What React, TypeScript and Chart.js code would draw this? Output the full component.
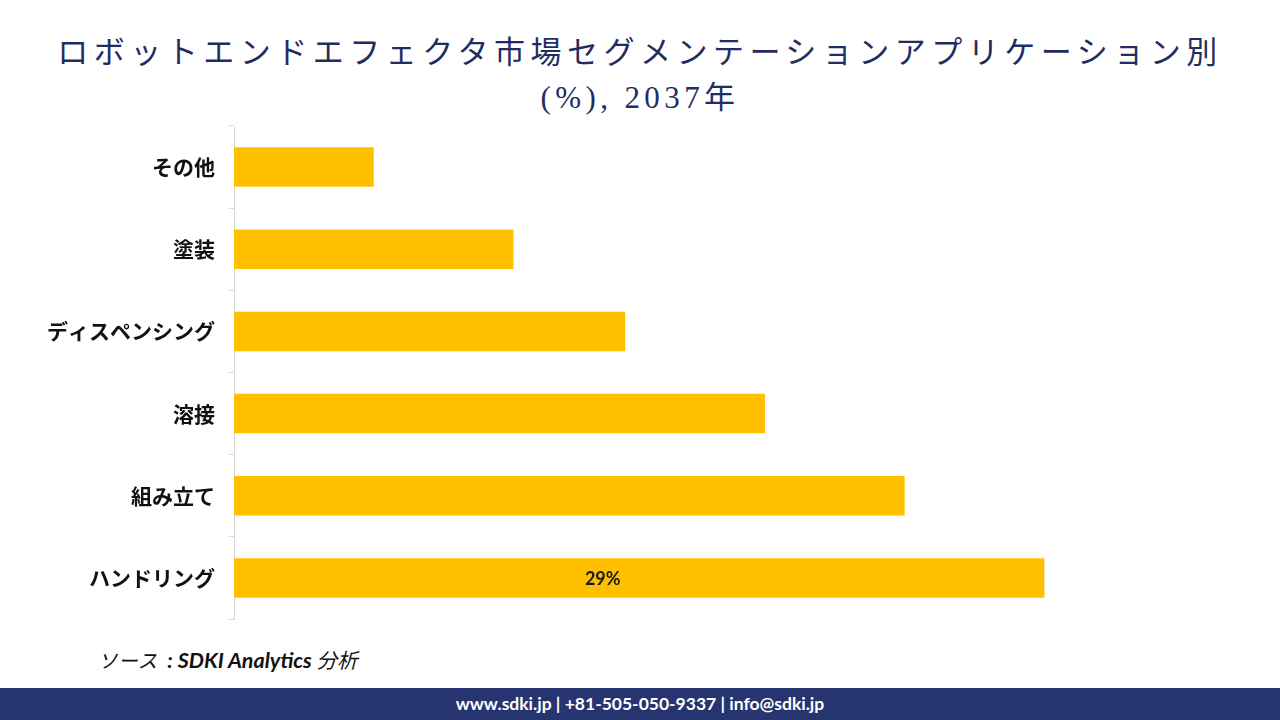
import React, { useEffect, useRef } from "react";
import { Chart, registerables } from "chart.js";

Chart.register(...registerables);

const categories: string[] = ["その他", "塗装", "ディスペンシング", "溶接", "組み立て", "ハンドリング"];
const shares: number[] = [5, 10, 14, 19, 24, 29];
const shownLabels: (string | null)[] = [null, null, null, null, null, "29%"];
const axisMax = 36;

const titleLines = ["ロボットエンドエフェクタ市場セグメンテーションアプリケーション別", "(%), 2037年"];

const labelPlugin = {
  id: "barLabels",
  afterDatasetsDraw(chart: any) {
    const ctx = chart.ctx;
    const meta = chart.getDatasetMeta(0);
    ctx.save();
    ctx.font = "bold 18px Lato, 'Noto Sans', sans-serif";
    ctx.fillStyle = "#1a1a1a";
    ctx.textAlign = "center";
    ctx.textBaseline = "middle";
    meta.data.forEach((bar: any, i: number) => {
      const txt = shownLabels[i];
      if (!txt) return;
      const xs = chart.scales.x;
      const x = xs.getPixelForValue(shares[i] * 0.455);
      ctx.fillText(txt, x, bar.y + 1);
    });
    ctx.restore();
  },
};

export default function App() {
  const ref = useRef<HTMLCanvasElement | null>(null);
  useEffect(() => {
    if (!ref.current) return;
    const chart = new Chart(ref.current, {
      type: "bar",
      data: {
        labels: categories,
        datasets: [
          {
            data: shares,
            backgroundColor: "#FFC000",
            barPercentage: 0.48,
            categoryPercentage: 1,
          },
        ],
      },
      options: {
        indexAxis: "y",
        animation: false,
        responsive: false,
        maintainAspectRatio: false,
        layout: { padding: { left: 0, right: 40, top: 26, bottom: 21 } },
        plugins: { legend: { display: false }, tooltip: { enabled: false }, title: { display: false } },
        scales: {
          x: { display: false, min: 0, max: axisMax },
          y: {
            afterFit(scale: any) {
              scale.width = 234;
              scale.paddingTop = 0;
              scale.paddingBottom = 0;
            },
            border: { display: true, color: "#d9d9d9", width: 1 },
            grid: { drawOnChartArea: false, drawTicks: true, tickLength: 5, color: "#d9d9d9", offset: true },
            ticks: {
              color: "#111",
              padding: 14,
              font: { family: "'Noto Sans CJK JP', sans-serif", size: 21, weight: "bold" },
            },
          },
        },
      },
      plugins: [labelPlugin],
    } as any);
    return () => chart.destroy();
  }, []);

  return (
    <div style={{ position: "fixed", left: 0, top: 0, width: 1280, height: 720, background: "#fff", overflow: "hidden" }}>
      <div
        style={{
          position: "absolute",
          top: 30,
          left: 0,
          width: 1280,
          textAlign: "center",
          fontFamily: "'Liberation Serif', 'DejaVu Serif', 'Noto Sans CJK JP', serif",
          fontSize: 31,
          letterSpacing: 5.5,
          lineHeight: "45px",
          color: "#1f2d63",
        }}
      >
        <div>{titleLines[0]}</div>
        <div style={{ letterSpacing: 4.4 }}>{titleLines[1]}</div>
      </div>
      <canvas ref={ref} width={1280} height={540} style={{ position: "absolute", left: 0, top: 100, width: 1280, height: 540 }} />
      <div
        style={{
          position: "absolute",
          left: 98,
          top: 644,
          fontFamily: "Lato, 'Noto Sans CJK JP', sans-serif",
          fontStyle: "italic",
          fontSize: 21.5,
          color: "#111",
          whiteSpace: "nowrap",
        }}
      >
        <span style={{ fontFamily: "'Noto Sans CJK JP', sans-serif", fontSize: 19.5, letterSpacing: 0.8 }}>ソース</span>
        <span style={{ fontWeight: "bold", whiteSpace: "pre" }}>{"  : SDKI Analytics "}</span>
        <span style={{ fontFamily: "'Noto Sans CJK JP', sans-serif", fontSize: 20.5 }}>分析</span>
      </div>
      <div
        style={{
          position: "absolute",
          left: 0,
          top: 688,
          width: 1280,
          height: 32,
          background: "#263470",
          color: "#fff",
          fontFamily: "Lato, 'Noto Sans', sans-serif",
          fontWeight: "bold",
          fontSize: 17.5,
          lineHeight: "32px",
          textAlign: "center",
        }}
      >
        www.sdki.jp | +81-505-050-9337 | info@sdki.jp
      </div>
    </div>
  );
}
